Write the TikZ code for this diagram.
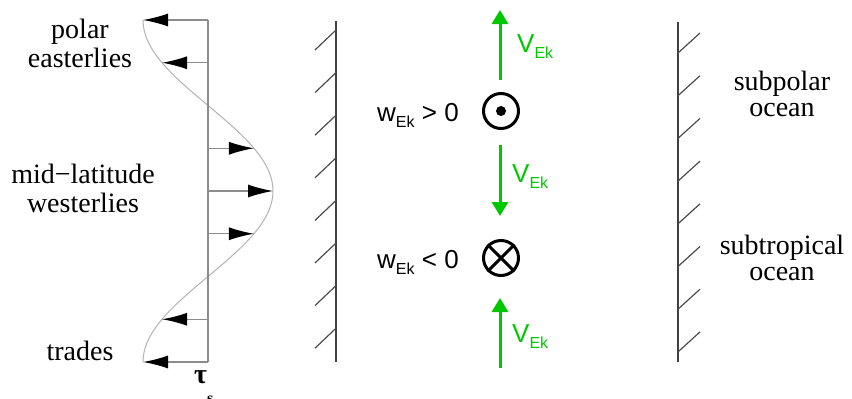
\documentclass[tikz,border=0pt]{standalone}
\usepackage{fontspec}
\setmainfont{Liberation Serif}
\newfontfamily\arialfont{Liberation Sans}
\usetikzlibrary{arrows.meta}
\definecolor{ekgreen}{RGB}{0,200,0}
\newcommand{\ekscript}{\lower6pt\hbox{\fontsize{16}{16}\selectfont Ek}}
\begin{document}
\begin{tikzpicture}[x=1pt,y=-1pt,
  wall/.style={line width=1.4pt,black!75},
  hatch/.style={line width=1.2pt,black!70},
  stress/.style={line width=1.3pt,black!45,-{Latex[length=25pt,width=13pt,black]}},
  ekman/.style={line width=3pt,ekgreen,-{Triangle[length=14pt,width=16pt]}},
  lbl/.style={font=\fontsize{28}{29}\selectfont,align=center,anchor=base,inner sep=0pt},
  rlbl/.style={font=\fontsize{28}{26}\selectfont,align=center,anchor=base,inner sep=0pt},
  sflbl/.style={font=\arialfont\fontsize{26}{26}\selectfont,anchor=base west,inner sep=0pt},
  spot/.style={circle,draw,line width=3pt,minimum size=35pt,inner sep=0pt}]
\useasboundingbox (0,0) rectangle (852,399);
% wind stress profile
\draw[black!30,line width=1pt] plot[domain=20:362,samples=90] ({208-65*cos(1.0526316*(\x-20))},\x);
\draw[black!45,line width=1.3pt] (208,20) coordinate (axtop) -- (208,362) coordinate (axbot);
\foreach \k in {0,1,3,4,5,7,8}
  \draw[stress] (208,20+42.75*\k) -- ({208-65*cos(45*\k)},20+42.75*\k);
\node[lbl] (polar) at (80,67) {polar\\easterlies};
\node[lbl] (midlat) at (83,212) {mid−latitude\\westerlies};
\node[lbl] (trades) at (80,360) {trades};
\node[anchor=base west,inner sep=0pt,font=\bfseries\fontsize{28}{28}\selectfont] (taus) at (194,383) {τ\lower20pt\hbox{\fontsize{16}{16}\selectfont s}};
% western and eastern walls
\draw[wall] (336,21) -- (336,362);
\foreach \k in {0,...,7}
  \draw[hatch] (336,30+42.6*\k) -- ++(-21,20);
\draw[wall] (678,22) -- (678,362);
\foreach \k in {0,...,7}
  \draw[hatch] (678,53+42.7*\k) -- ++(22,-20);
\node[rlbl] (subpolar) at (782,116) {subpolar\\ocean};
\node[rlbl] (subtrop) at (782,280) {subtropical\\ocean};
% Ekman pumping
\node[spot] (upw) at (501,111) {};
\fill (upw) circle (5pt);
\node[spot] (dnw) at (501,258) {};
\draw[line width=3pt] (dnw.north west) -- (dnw.south east) (dnw.north east) -- (dnw.south west);
\node[sflbl] (wup) at (377,121) {w\ekscript{} > 0};
\node[sflbl] (wdn) at (377,268) {w\ekscript{} < 0};
\coordinate (va) at (500,80);  \coordinate (vb) at (500,10);
\coordinate (vc) at (500,145); \coordinate (vd) at (500,216);
\coordinate (ve) at (500,368); \coordinate (vf) at (500,298);
\draw[ekman] (va) -- (vb);
\draw[ekman] (vc) -- (vd);
\draw[ekman] (ve) -- (vf);
\node[sflbl,ekgreen] (vtop) at (517,52) {V\ekscript};
\node[sflbl,ekgreen] (vmid) at (512,182) {V\ekscript};
\node[sflbl,ekgreen] (vbot) at (512,342) {V\ekscript};
\end{tikzpicture}
\end{document}
